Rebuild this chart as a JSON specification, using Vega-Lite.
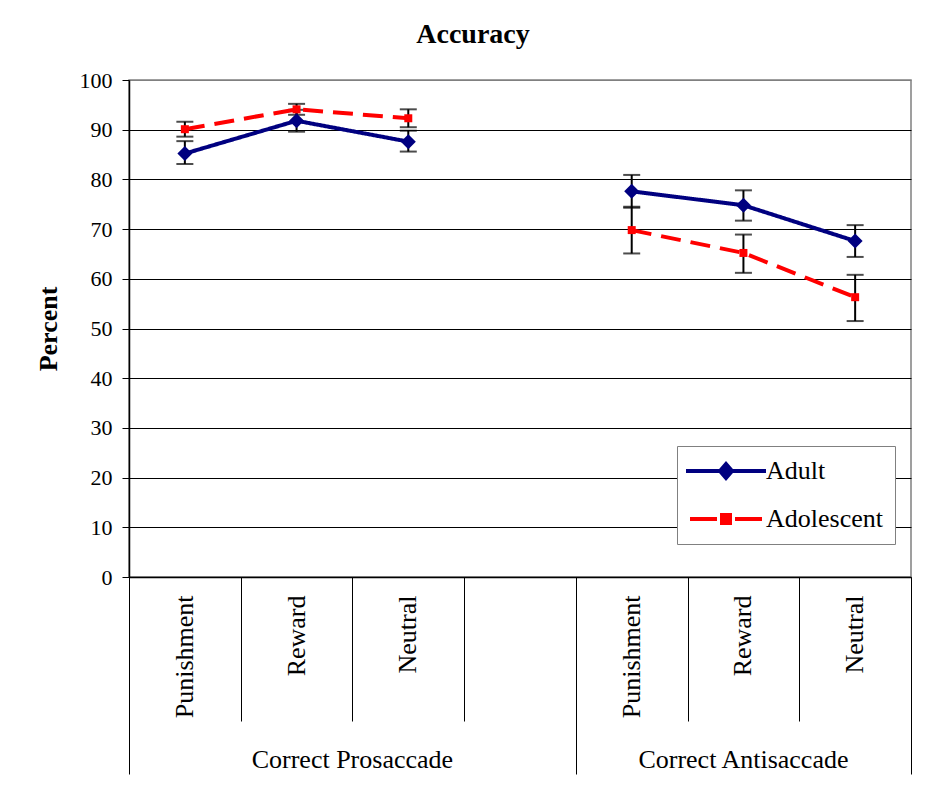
{
  "$schema": "https://vega.github.io/schema/vega-lite/v6.json",
  "description": "Accuracy by condition, adults vs adolescents, with error bars.",
  "width": 782,
  "height": 497,
  "autosize": "none",
  "padding": {"left": 129, "top": 80, "right": 18, "bottom": 221},
  "background": "white",
  "title": {
    "text": "Accuracy",
    "font": "Liberation Serif",
    "fontSize": 28,
    "fontWeight": "bold",
    "color": "black",
    "anchor": "middle",
    "frame": "group",
    "dx": -47,
    "offset": 20
  },
  "data": {
    "values": [
      {"slot": "Pro-Punishment", "block": "Pro", "series": "Adult", "value": 85.2, "lo": 83.1, "hi": 87.7},
      {"slot": "Pro-Reward", "block": "Pro", "series": "Adult", "value": 91.8, "lo": 89.6, "hi": 94.0},
      {"slot": "Pro-Neutral", "block": "Pro", "series": "Adult", "value": 87.6, "lo": 85.6, "hi": 89.8},
      {"slot": "Anti-Punishment", "block": "Anti", "series": "Adult", "value": 77.6, "lo": 74.3, "hi": 80.9},
      {"slot": "Anti-Reward", "block": "Anti", "series": "Adult", "value": 74.8, "lo": 71.7, "hi": 77.8},
      {"slot": "Anti-Neutral", "block": "Anti", "series": "Adult", "value": 67.6, "lo": 64.4, "hi": 70.8},
      {"slot": "Pro-Punishment", "block": "Pro", "series": "Adolescent", "value": 90.1, "lo": 88.6, "hi": 91.6},
      {"slot": "Pro-Reward", "block": "Pro", "series": "Adolescent", "value": 94.1, "lo": 93.0, "hi": 95.2},
      {"slot": "Pro-Neutral", "block": "Pro", "series": "Adolescent", "value": 92.3, "lo": 90.5, "hi": 94.1},
      {"slot": "Anti-Punishment", "block": "Anti", "series": "Adolescent", "value": 69.8, "lo": 65.1, "hi": 74.5},
      {"slot": "Anti-Reward", "block": "Anti", "series": "Adolescent", "value": 65.2, "lo": 61.2, "hi": 68.9},
      {"slot": "Anti-Neutral", "block": "Anti", "series": "Adolescent", "value": 56.3, "lo": 51.5, "hi": 60.8}
    ]
  },
  "resolve": {"axis": {"x": "independent", "y": "independent"}},
  "layer": [
    {
      "mark": {"type": "rule", "color": "black", "strokeWidth": 2},
      "encoding": {
        "x": {
          "field": "slot",
          "type": "nominal",
          "title": null,
          "scale": {
            "type": "band",
            "domain": ["Pro-Punishment", "Pro-Reward", "Pro-Neutral", "gap", "Anti-Punishment", "Anti-Reward", "Anti-Neutral"],
            "paddingInner": 0,
            "paddingOuter": 0
          },
          "axis": {
            "orient": "bottom",
            "labels": false,
            "grid": false,
            "tickBand": "extent",
            "tickColor": "black",
            "tickWidth": 1,
            "tickSize": {
              "condition": {"test": "datum.value === 'gap' || datum.value === 'Anti-Neutral' || datum.extra", "value": 197},
              "value": 144
            },
            "domain": true,
            "domainColor": "black",
            "domainWidth": 1.5
          }
        },
        "y": {
          "field": "lo",
          "type": "quantitative",
          "scale": {"domain": [0, 100], "nice": false},
          "axis": {
            "orient": "left",
            "values": [0, 10, 20, 30, 40, 50, 60, 70, 80, 90, 100],
            "grid": true,
            "gridColor": {"condition": {"test": "datum.value === 100", "value": "#808080"}, "value": "black"},
            "gridWidth": 1,
            "domainColor": "black",
            "domainWidth": 1.5,
            "tickColor": "black",
            "tickSize": 7,
            "labelPadding": 10,
            "labelFont": "Liberation Serif",
            "labelFontSize": 22,
            "labelColor": "black",
            "title": "Percent",
            "titleFont": "Liberation Serif",
            "titleFontSize": 26,
            "titleFontWeight": "bold",
            "titleColor": "black",
            "titlePadding": 18
          }
        },
        "y2": {"field": "hi"}
      }
    },
    {
      "mark": {"type": "tick", "color": "black", "size": 17, "thickness": 2},
      "encoding": {
        "x": {"field": "slot", "type": "nominal", "title": null, "axis": null},
        "y": {"field": "lo", "type": "quantitative", "axis": null}
      }
    },
    {
      "mark": {"type": "tick", "color": "black", "size": 17, "thickness": 2},
      "encoding": {
        "x": {"field": "slot", "type": "nominal", "title": null, "axis": null},
        "y": {"field": "hi", "type": "quantitative", "axis": null}
      }
    },
    {
      "mark": {"type": "line", "strokeWidth": 4},
      "encoding": {
        "x": {
          "field": "slot",
          "type": "nominal",
          "title": null,
          "axis": {
            "orient": "bottom",
            "ticks": false,
            "tickSize": 0,
            "domain": false,
            "grid": false,
            "labelAngle": -90,
            "labelAlign": "right",
            "labelBaseline": "middle",
            "labelPadding": 18,
            "labelOverlap": false,
            "labelExpr": "indexof(datum.label, '-') > 0 ? split(datum.label, '-')[1] : ''",
            "labelFont": "Liberation Serif",
            "labelFontSize": 26,
            "labelColor": "black"
          }
        },
        "y": {"field": "value", "type": "quantitative", "axis": null},
        "detail": {"field": "block"},
        "color": {
          "field": "series",
          "type": "nominal",
          "scale": {"domain": ["Adult", "Adolescent"], "range": ["#000080", "#FF0000"]},
          "legend": {
            "title": null,
            "orient": "none",
            "legendX": 548,
            "legendY": 366,
            "fillColor": "white",
            "strokeColor": "#808080",
            "padding": 12,
            "rowPadding": 20,
            "symbolSize": 400,
            "symbolOffset": 24,
            "labelOffset": 27,
            "labelFont": "Liberation Serif",
            "labelFontSize": 26,
            "labelColor": "black",
            "encode": {
              "symbols": {
                "update": {
                  "shape": {"signal": "datum.value === 'Adult' ? 'M-4,0H4M-0.6,0L0,-0.7L0.6,0L0,0.7Z' : 'M-3.6,0H-0.9M0.9,0H3.6M-0.4,-0.4H0.4V0.4H-0.4Z'"},
                  "fill": {"signal": "datum.value === 'Adult' ? '#000080' : '#FF0000'"},
                  "stroke": {"signal": "datum.value === 'Adult' ? '#000080' : '#FF0000'"},
                  "strokeWidth": {"value": 4},
                  "strokeDash": {"value": []},
                  "opacity": {"value": 1}
                }
              }
            }
          }
        },
        "strokeDash": {
          "condition": {"test": "datum.series === 'Adolescent'", "value": [20, 10]},
          "value": [1, 0]
        }
      }
    },
    {
      "mark": {"type": "point", "filled": true, "opacity": 1},
      "encoding": {
        "x": {
          "field": "slot",
          "type": "nominal",
          "title": null,
          "axis": {
            "orient": "bottom",
            "values": ["Pro-Neutral", "Anti-Reward"],
            "ticks": false,
            "tickSize": 0,
            "domain": false,
            "grid": false,
            "labelAngle": 0,
            "labelAlign": "center",
            "labelBaseline": "alphabetic",
            "labelPadding": 190,
            "labelOverlap": false,
            "labelLimit": 500,
            "labelOffset": {"condition": {"test": "datum.value === 'Pro-Neutral'", "value": -55.9}, "value": 0},
            "labelExpr": "indexof(datum.label, 'Pro') === 0 ? 'Correct Prosaccade' : 'Correct Antisaccade'",
            "labelFont": "Liberation Serif",
            "labelFontSize": 26,
            "labelColor": "black"
          }
        },
        "y": {"field": "value", "type": "quantitative", "axis": null},
        "color": {
          "condition": {"test": "datum.series === 'Adult'", "value": "#000080"},
          "value": "#FF0000"
        },
        "shape": {
          "condition": {"test": "datum.series === 'Adult'", "value": "diamond"},
          "value": "square"
        },
        "size": {
          "condition": {"test": "datum.series === 'Adult'", "value": 225},
          "value": 64
        }
      }
    }
  ],
  "config": {
    "view": {"stroke": "#808080", "strokeWidth": 1.5}
  }
}
